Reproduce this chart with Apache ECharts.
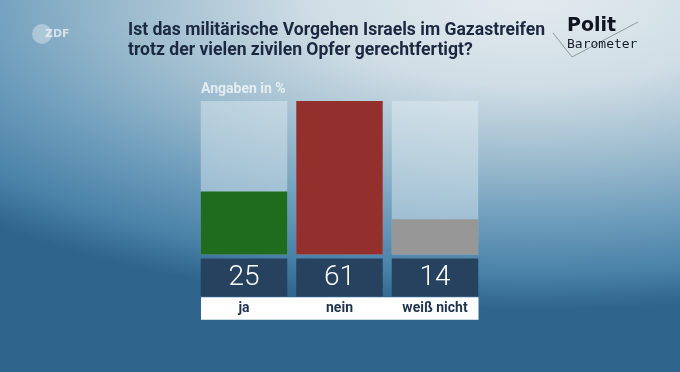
<!DOCTYPE html>
<html>
<head>
<meta charset="utf-8">
<script src="https://cdn.jsdelivr.net/npm/echarts@6/dist/echarts.min.js"></script>
<style>
html,body{margin:0;padding:0;width:680px;height:372px;overflow:hidden;}
body{background:radial-gradient(ellipse 780px 310px at 78% 0%, #e3eaef 0%, #cfdde5 28%, #95b7cb 55%, #6c9cbb 72%, #4a82a8 88%, #2f648c 100%);}
#chart{width:680px;height:372px;}
</style>
</head>
<body>
<div id="chart"></div>
<script>
const categories = ['ja', 'nein', 'weiß nicht'];
const values = [25, 61, 14];
const titleLines = ['Ist das militärische Vorgehen Israels im Gazastreifen', 'trotz der vielen zivilen Opfer gerechtfertigt?'];
const unitText = 'Angaben in %';

const barColors = ['#1f6c1f', '#93302e', '#979797'];
const titleFont = 'bold 18px Roboto, sans-serif';
const ctx = document.createElement('canvas').getContext('2d');
ctx.font = titleFont;
const titleScale = 417 / ctx.measureText(titleLines[0]).width;

const chart = echarts.init(document.getElementById('chart'), null, {renderer: 'canvas'});
const option = {
  backgroundColor: 'transparent',
  animation: false,
  title: [
    {
      text: unitText, left: 201, top: 81, padding: 0,
      textStyle: {fontFamily: 'Roboto, sans-serif', fontWeight: 'bold', fontSize: 14, lineHeight: 16, color: 'rgba(240,245,248,0.85)'}
    }
  ],
  grid: [
    {left: 196.25, width: 286.5, top: 101, height: 153.5},
    {left: 201, width: 277.5, top: 280, height: 28}
  ],
  xAxis: [
    {
      type: 'category', data: categories, gridIndex: 0,
      axisLine: {show: false}, axisTick: {show: false},
      axisLabel: {margin: 43, fontFamily: 'Roboto, sans-serif', fontWeight: 'bold', fontSize: 14, lineHeight: 22, color: '#1d3350'}
    },
    {
      type: 'category', data: categories, gridIndex: 1,
      axisLine: {show: true, lineStyle: {color: '#ffffff', width: 22.6, cap: 'butt'}},
      axisTick: {show: false}, axisLabel: {show: false}
    }
  ],
  yAxis: [
    {type: 'value', gridIndex: 0, min: 0, max: Math.max(...values), show: false},
    {type: 'value', gridIndex: 1, show: false}
  ],
  series: [{
    type: 'bar', xAxisIndex: 0, yAxisIndex: 0,
    data: values.map((v, i) => ({value: v, itemStyle: {color: barColors[i]}})),
    barWidth: 86.5,
    showBackground: true,
    backgroundStyle: {color: 'rgba(232,240,245,0.42)'},
    label: {
      show: true, position: 'bottom', distance: 4,
      width: 86.5, height: 38, lineHeight: 38, align: 'center', padding: 0,
      backgroundColor: '#27425f', color: '#ffffff',
      fontFamily: 'Roboto, sans-serif', fontWeight: 300, fontSize: 28
    }
  }],
  graphic: [
    {type: 'text', x: 128, y: 20, scaleX: titleScale, originX: 0,
      style: {text: titleLines.join('\n'), fill: '#1b2840', font: titleFont, lineHeight: 20}},
    {type: 'circle', shape: {cx: 42, cy: 34, r: 10}, style: {fill: 'rgba(240,245,248,0.4)'}},
    {type: 'text', x: 45, y: 28.5, style: {text: 'ZDF', fill: 'rgba(245,248,250,0.7)', font: 'bold 11px "DejaVu Sans", sans-serif'}},
    {type: 'polyline', shape: {points: [[553, 33], [572, 57], [638, 22]]}, style: {stroke: '#8c98a2', lineWidth: 1, fill: null}},
    {type: 'text', x: 567, y: 17, style: {text: 'Polit', fill: '#0e1520', font: 'bold 19px "DejaVu Sans", sans-serif'}},
    {type: 'text', x: 567, y: 38.5, style: {text: 'Barometer', fill: '#141c28', font: '13px "DejaVu Sans Mono", monospace'}}
  ]
};
chart.setOption(option);
</script>
</body>
</html>
